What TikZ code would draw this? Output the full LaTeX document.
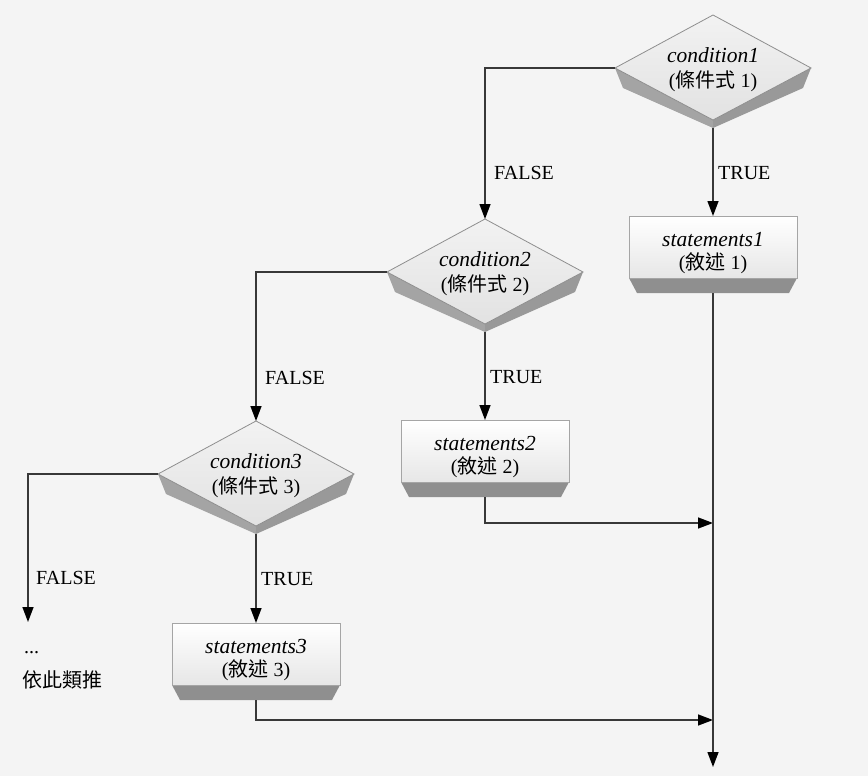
\documentclass[tikz,border=0pt]{standalone}
\usepackage{fontspec}
\setmainfont{Liberation Serif}
\newfontfamily\cjk{Noto Sans CJK TC}
\usetikzlibrary{arrows.meta}

\definecolor{bg}{HTML}{F4F4F4}
\definecolor{edge}{HTML}{8E8E8E}
\definecolor{bevelL}{HTML}{A4A4A4}
\definecolor{bevelR}{HTML}{999999}
\definecolor{foot}{HTML}{8F8F8F}
\definecolor{facetop}{HTML}{F2F2F2}
\definecolor{facebot}{HTML}{E2E2E2}
\definecolor{wire}{HTML}{383838}

\tikzset{
  wire/.style={draw=wire, line width=1.4pt,
    -{Triangle[length=15pt,width=11pt,color=black]}},
  lbl/.style={anchor=west, inner sep=0pt, font=\fontsize{20}{24}\selectfont},
  condtext/.style={align=center, inner sep=0pt, font=\fontsize{20}{25}\selectfont},
  stmttext/.style={align=center, inner sep=0pt, font=\fontsize{20}{23}\selectfont},
  % beveled decision diamond
  pics/cond/.style n args={2}{code={
    \fill[bevelL] (-98,0) -- (-90,20) -- (0,60) -- (0,52) -- cycle;
    \fill[bevelR] (0,52) -- (0,60) -- (90,20) -- (98,0) -- cycle;
    \path[top color=facetop, bottom color=facebot, draw=edge, line width=0.8pt]
      (-98,0) -- (0,-53) -- (98,0) -- (0,52) -- cycle;
    \node[condtext] (-text) at (0,2)
      {{\fontsize{21.5}{25}\selectfont\itshape #1}\\({\cjk 條件式} #2)};
    \coordinate (-top) at (0,-53);
    \coordinate (-left) at (-98,0);
    \coordinate (-bottom) at (0,60);
  }},
  % statement block with a shaded foot
  pics/stmt/.style n args={2}{code={
    \fill[foot] (-84,31) -- (84,31) -- (76,46) -- (-76,46) -- cycle;
    \path[top color=white, bottom color=facetop!90!gray, draw=edge!80, line width=0.8pt]
      (-84,-31) rectangle (84,31);
    \node[stmttext] (-text) at (0,6)
      {{\fontsize{21.5}{23}\selectfont\itshape #1}\\({\cjk 敘述} #2)};
    \coordinate (-top) at (0,-31);
    \coordinate (-bottom) at (0,46);
  }}
}

\begin{document}
\begin{tikzpicture}[x=1pt, y=-1pt]
\useasboundingbox (0,0) rectangle (868,776);
\fill[bg] (0,0) rectangle (868,776);

% decisions and statements
\pic (d1) at (713,68)  {cond={condition1}{1}};
\pic (s1) at (713,247) {stmt={statements1}{1}};
\pic (d2) at (485,272) {cond={condition2}{2}};
\pic (s2) at (485,451) {stmt={statements2}{2}};
\pic (d3) at (256,474) {cond={condition3}{3}};
\pic (s3) at (256,654) {stmt={statements3}{3}};

% free ends of connectors
\coordinate (more) at (28,622);
\coordinate (j2) at (713,523);
\coordinate (j3) at (713,720);
\coordinate (exit) at (713,767);

% connectors
\draw[wire] (d1-bottom) -- (s1-top);
\draw[wire] (d1-left) -| (d2-top);
\draw[wire] (d2-bottom) -- (s2-top);
\draw[wire] (d2-left) -| (d3-top);
\draw[wire] (d3-bottom) -- (s3-top);
\draw[wire] (d3-left) -| (more);
\draw[wire] (s2-bottom) |- (j2);
\draw[wire] (s3-bottom) |- (j3);
\draw[wire] (s1-bottom) -- (exit);

% branch labels
\node[lbl] (f1) at (494,173) {FALSE};
\node[lbl] (t1) at (718,173) {TRUE};
\node[lbl] (f2) at (265,378) {FALSE};
\node[lbl] (t2) at (490,377) {TRUE};
\node[lbl] (f3) at (36,578) {FALSE};
\node[lbl] (t3) at (261,579) {TRUE};
\node[lbl] (dots) at (24,653) {...};
\node[lbl] (etc) at (22,680) {\cjk 依此類推};
\end{tikzpicture}
\end{document}
